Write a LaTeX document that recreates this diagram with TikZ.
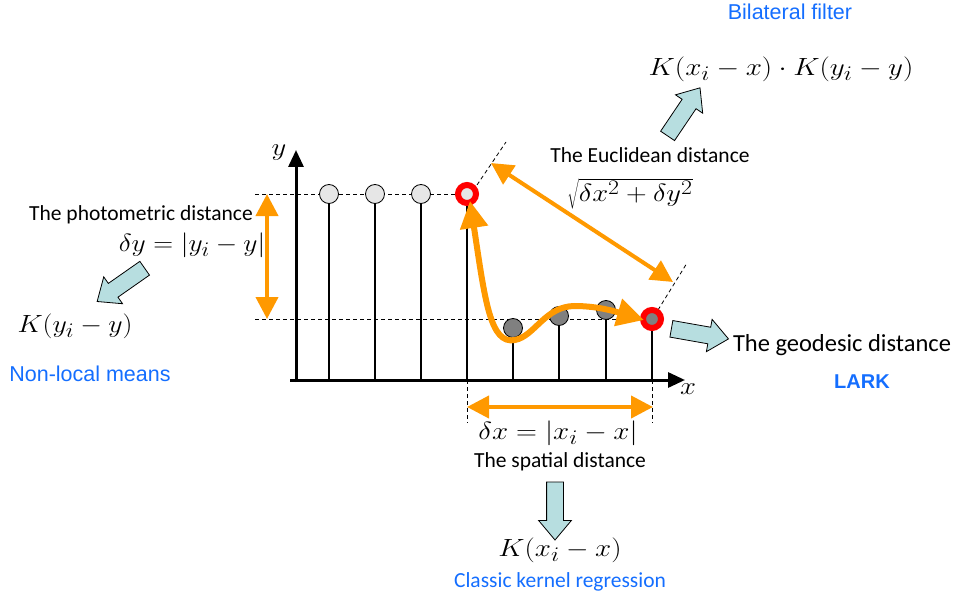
\documentclass[tikz,border=0pt]{standalone}
\usepackage{graphicx}
\usepackage{fontspec}
\setmainfont{Carlito}
\newfontfamily\arialf{Liberation Sans}
\usetikzlibrary{arrows.meta,shapes.arrows}
\definecolor{orng}{RGB}{255,153,0}
\definecolor{bluet}{RGB}{20,110,255}
\definecolor{tealf}{RGB}{183,222,224}
\definecolor{lgray}{RGB}{230,230,230}
\definecolor{dgray}{RGB}{128,128,128}
\newcommand\smath[2]{\scalebox{#1}[1]{$#2$}}
\begin{document}
\begin{tikzpicture}[x=1pt,y=-1pt,
  lbl/.style={font=\fontsize{21.5}{24}\selectfont, inner sep=0pt},
  mth/.style={font=\fontsize{24.88}{28}\selectfont, inner sep=0pt},
  blu/.style={font=\arialf\fontsize{21.5}{24}\selectfont, text=bluet, inner sep=0pt},
  dsh/.style={dash pattern=on 4pt off 3pt, line width=0.8pt},
  stem/.style={line width=2pt},
  axisl/.style={line width=3pt, -{Triangle[length=17pt,width=15pt]}},
  ptl/.style={circle, draw, line width=0.8pt, fill=lgray, minimum size=19pt, inner sep=0pt},
  ptd/.style={circle, draw, line width=0.8pt, fill=dgray, minimum size=19pt, inner sep=0pt},
  ring/.style={circle, draw=red, line width=6pt, minimum size=18pt, inner sep=0pt},
  oarr/.style={draw=orng, line width=4pt, {Triangle[length=22pt,width=22pt]}-{Triangle[length=22pt,width=22pt]}},
  garr/.style={draw=orng, line width=6pt, {Triangle[length=27pt,width=27pt]}-{Triangle[length=27pt,width=27pt]}},
  barrow/.style={single arrow, draw, fill=tealf, line width=0.8pt, minimum height=58pt,
    inner xsep=0pt, inner ysep=8pt, single arrow head extend=8pt, single arrow tip angle=80}
]
\useasboundingbox (0,0) rectangle (956,599);

% axes
\coordinate (ytip) at (296,150);
\coordinate (xtip) at (685,380);
\coordinate (ostart) at (290,380);
\coordinate (ybot) at (296,382);
\draw[axisl] (ybot) -- (ytip);
\draw[axisl] (ostart) -- (xtip);
\node[mth] (ylab) at (279,153) {\smath{1.15}{y}};
\node[mth] (xlab) at (688,389) {\smath{1.15}{x}};

% stems
\foreach \n/\x in {1/329,2/375,3/421,4/467,5/513,6/559,7/606,8/652}
  \coordinate (b\n) at (\x,380);
\coordinate (p1) at (329,194);
\coordinate (p2) at (375,194);
\coordinate (p3) at (421,194);
\coordinate (p4) at (467,194);
\coordinate (p5) at (513,328);
\coordinate (p6) at (559,316);
\coordinate (p7) at (606,310);
\coordinate (p8) at (652,319);
\foreach \n in {1,...,8} \draw[stem] (b\n) -- (p\n);

% dashed guides
\coordinate (hl1) at (255,194);
\coordinate (hl2) at (255,319);
\draw[dsh] (hl1) -- (p4);
\draw[dsh] (hl2) -- (p8);
\coordinate (d1a) at (477,185);
\coordinate (d1b) at (506,142);
\coordinate (d2a) at (658,310);
\coordinate (d2b) at (687,263);
\draw[dsh] (d1a) -- (d1b);
\draw[dsh] (d2a) -- (d2b);
\coordinate (v1) at (467,423);
\coordinate (v2) at (652,423);
\draw[dsh] (b4) -- (v1);
\draw[dsh] (b8) -- (v2);

% sample points
\node[ptl] (n1) at (p1) {};
\node[ptl] (n2) at (p2) {};
\node[ptl] (n3) at (p3) {};
\node[ring, fill=lgray] (n4) at (p4) {};
\node[ptd] (n5) at (p5) {};
\node[ptd] (n6) at (p6) {};
\node[ptd] (n7) at (p7) {};
\node[ring, fill=dgray] (n8) at (p8) {};

% orange arrows
\coordinate (e1) at (491,163);
\coordinate (e2) at (673,282);
\draw[oarr] (e1) -- (e2);
\coordinate (vy1) at (267,194);
\coordinate (vy2) at (267,319);
\draw[oarr] (vy1) -- (vy2);
\coordinate (hx1) at (467,407);
\coordinate (hx2) at (653,407);
\draw[oarr] (hx1) -- (hx2);
\coordinate (g1) at (470,201);
\coordinate (g2) at (644,320);
\draw[garr] (g1) .. controls (485,300) and (490,345) .. (515,340)
  .. controls (535,336) and (545,306) .. (575,306)
  .. controls (600,306) and (620,313) .. (g2);

% labels
\node[lbl] (phot) at (141,215) {The photometric distance};
\node[mth] (dy) at (192,245) {\smath{1.105}{\delta y=|y_i-y|}};
\node[mth] (ky) at (75,326) {\smath{1.12}{K(y_i-y)}};
\node[blu] (nlm) at (90,374) {Non-local means};

\node[blu] (bil) at (790,12) {Bilateral filter};
\node[mth] (kxy) at (781,69) {\smath{1.17}{K(x_i-x)\cdot K(y_i-y)}};
\node[lbl] (euc) at (650,155) {The Euclidean distance};
\node[mth] (sq) at (630,194) {\smath{1.15}{\sqrt{\vphantom{\big(}\delta x^2+\delta y^2}}};

\node[lbl, font=\fontsize{24.5}{28}\selectfont] (geo) at (842,345) {The geodesic distance};
\node[blu, font=\arialf\bfseries\fontsize{20}{24}\selectfont] (lark) at (862,382) {LARK};

\node[mth] (dx) at (558,433) {\smath{1.165}{\delta x=|x_i-x|}};
\node[lbl] (spa) at (560,462) {The spatial distance};
\node[mth] (kx) at (560,550) {\smath{1.165}{K(x_i-x)}};
\node[lbl, text=bluet] (ckr) at (560,582) {Classic kernel regression};

% block arrows
\node[barrow, rotate=215] (ba1) at (125,282) {};
\node[barrow, rotate=56] (ba2) at (681,116) {};
\node[barrow, rotate=-10] (ba3) at (695,333) {};
\node[barrow, rotate=-90] (ba4) at (555,506) {};
\end{tikzpicture}
\end{document}
